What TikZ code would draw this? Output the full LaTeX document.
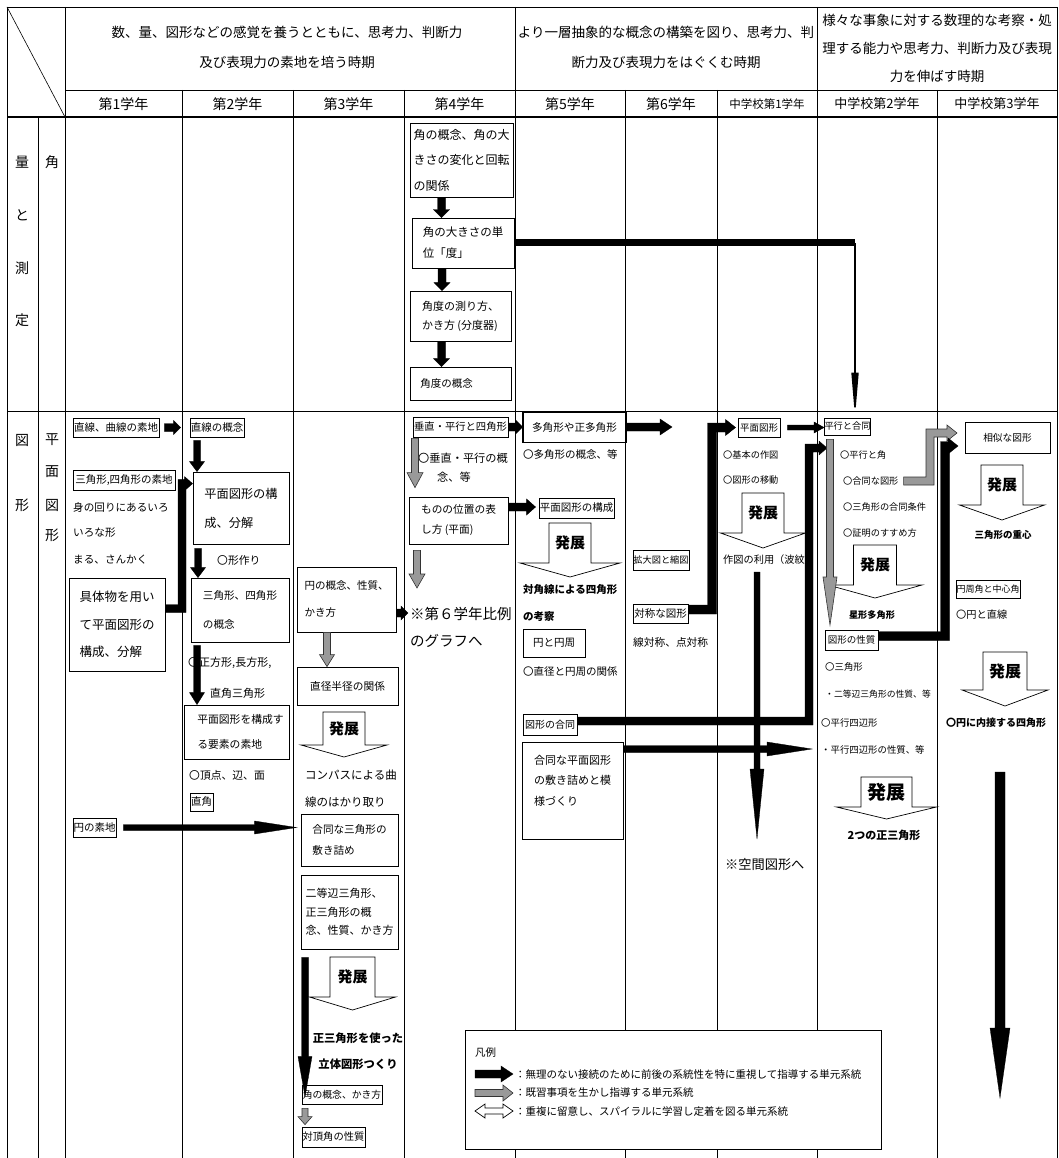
\documentclass[tikz,border=0pt]{standalone}
\usepackage{fontspec}
\setmainfont{Noto Sans CJK JP}
\usetikzlibrary{calc,arrows.meta}
\newcommand\FS[2]{\fontsize{#1}{#2}\selectfont}
% down block arrow: style, from, to, half shaft, half head, head length
\newcommand\DArrow[6]{\path[#1] let \p1=#2, \p2=#3 in (\x1-#4,\y1) -- (\x1-#4,\y2+#6) -- (\x1-#5,\y2+#6) -- (\x1,\y2) -- (\x1+#5,\y2+#6) -- (\x1+#4,\y2+#6) -- (\x1+#4,\y1) -- cycle;}
% right block arrow
\newcommand\RArrow[6]{\path[#1] let \p1=#2, \p2=#3 in (\x1,\y1-#4) -- (\x2-#6,\y1-#4) -- (\x2-#6,\y1-#5) -- (\x2,\y1) -- (\x2-#6,\y1+#5) -- (\x2-#6,\y1+#4) -- (\x1,\y1+#4) -- cycle;}
% L-shaped block arrow: right, up, right
\newcommand\LArrow[7]{\path[#1] let \p1=#2, \p2=#3, \p3=#4 in (\x1,\y1-#5) -- (\x2+#5,\y1-#5) -- (\x2+#5,\y3-#5) -- (\x3-#7,\y3-#5) -- (\x3-#7,\y3-#6) -- (\x3,\y3) -- (\x3-#7,\y3+#6) -- (\x3-#7,\y3+#5) -- (\x2-#5,\y3+#5) -- (\x2-#5,\y1+#5) -- (\x1,\y1+#5) -- cycle;}
% box node
\newcommand\bxn[6]{\node[bx, minimum width={(#4-#2)*1pt}, minimum height={(#5-#3)*1pt}, font=#6] (#1) at ({(#2+#4)/2},{(#3+#5)/2})}
% hollow "hatten" arrow: name, cx, top, rect half width, shoulder y, head half width, tip y, font size
\newcommand\Hatten[8]{%
 \draw[hol] ({#2-#4},#3) -- ({#2+#4},#3) -- ({#2+#4},#5) -- ({#2+#6},#5) -- (#2,#7) -- ({#2-#6},#5) -- ({#2-#4},#5) -- cycle;
 \node[inner sep=0pt, font=\FS{#8}{#8}\bfseries] (#1) at (#2,{(#3+#5)/2}) {発展};}
\begin{document}
\begin{tikzpicture}[x=1pt,y=-1pt,
 grid/.style={line width=0.8pt},
 bx/.style={draw, line width=0.8pt, inner sep=0pt, align=left},
 tx/.style={anchor=west, inner sep=0pt},
 tc/.style={inner sep=0pt},
 blk/.style={fill=black, draw=black, line width=0.3pt},
 gry/.style={fill=black!40, draw=black!80, line width=0.6pt},
 hol/.style={fill=white, draw=black, line width=0.7pt}]
\useasboundingbox (0,0) rectangle (1058,1158);
\fill[white] (0,0) rectangle (1058,1158);
% ---------- grid
\draw[grid] (7,7) -- (1057,7);
\draw[grid] (65,90) -- (1057,90);
\draw[line width=2pt] (7,117) -- (1057,117);
\draw[grid] (7,411) -- (1057,411);
\draw[grid] (7,7) -- (7,1158);
\draw[grid] (65,7) -- (65,1158);
\draw[grid] (38,117) -- (38,1158);
\foreach \cx in {182,293,404,625,717,937} \draw[grid] (\cx,90) -- (\cx,1158);
\foreach \cx in {515,817,1057} \draw[grid] (\cx,7) -- (\cx,1158);
\draw[line width=0.6pt] (7,7) -- (65,117);
% ---------- header
\node[align=center, font=\FS{13.5}{30}] (hp1) at (287,47) {数、量、図形などの感覚を養うとともに、思考力、判断力\\及び表現力の素地を培う時期};
\node[align=center, font=\FS{13.5}{30}] (hp2) at (666,47) {より一層抽象的な概念の構築を図り、思考力、判\\断力及び表現力をはぐくむ時期};
\node[align=center, font=\FS{13.5}{28}] (hp3) at (937,48) {様々な事象に対する数理的な考察・処\\理する能力や思考力、判断力及び表現\\力を伸ばす時期};
\node[font=\FS{14}{14}] (y1) at (123.5,104) {第1学年};
\node[font=\FS{14}{14}] (y2) at (237.5,104) {第2学年};
\node[font=\FS{14}{14}] (y3) at (348.5,104) {第3学年};
\node[font=\FS{14}{14}] (y4) at (459.5,104) {第4学年};
\node[font=\FS{14}{14}] (y5) at (570,104) {第5学年};
\node[font=\FS{14}{14}] (y6) at (671,104) {第6学年};
\node[font=\FS{11.5}{11.5}] (y7) at (767,104) {中学校第1学年};
\node[font=\FS{13}{13}] (y8) at (877,104) {中学校第2学年};
\node[font=\FS{13}{13}] (y9) at (997,104) {中学校第3学年};
% ---------- left labels
\node[tc, font=\FS{14}{14}] (L1) at (22,162) {量};
\node[tc, font=\FS{14}{14}] (L2) at (22,215) {と};
\node[tc, font=\FS{14}{14}] (L3) at (22,268) {測};
\node[tc, font=\FS{14}{14}] (L4) at (22,320) {定};
\node[tc, font=\FS{14}{14}] (L5) at (52,162) {角};
\node[tc, font=\FS{14}{14}] (L6) at (22,440) {図};
\node[tc, font=\FS{14}{14}] (L7) at (22,505) {形};
\node[tc, font=\FS{14}{14}] (L8) at (52,440) {平};
\node[tc, font=\FS{14}{14}] (L9) at (52,472) {面};
\node[tc, font=\FS{14}{14}] (L10) at (52,505) {図};
\node[tc, font=\FS{14}{14}] (L11) at (52,535) {形};
% ---------- angle section (4th grade)
\bxn{A1}{410}{123}{513}{197}{\FS{12}{25.5}} {角の概念、角の大\\きさの変化と回転\\の関係};
\bxn{A2}{412}{218}{514}{268}{\FS{11.5}{21}} {角の大きさの単\\位「度」};
\bxn{A3}{410}{291}{511}{341}{\FS{11}{19}} {角度の測り方、\\かき方 (分度器)};
\bxn{A4}{410}{367}{511}{400}{\FS{10.5}{10.5}} {角度の概念\hspace*{28pt}};
\DArrow{blk}{([xshift=-20pt]A1.south)}{(A2.north)}{4pt}{8pt}{8pt}
\DArrow{blk}{([xshift=-21pt]A2.south)}{(A3.north)}{4pt}{8pt}{8pt}
\DArrow{blk}{([xshift=-19pt]A3.south)}{(A4.north)}{4pt}{8pt}{8pt}
\coordinate (kAx) at (855,0);
% ---------- col 1
\bxn{c1a}{73}{418}{159}{437}{\FS{10.5}{10.5}} {直線、曲線の素地};
\bxn{c1b}{73}{470}{175}{490}{\FS{10.5}{10.5}} {三角形,四角形の素地};
\node[tx, font=\FS{10.6}{10.6}] (t1a) at (73,507) {身の回りにあるいろ};
\node[tx, font=\FS{10.6}{10.6}] (t1b) at (73,533) {いろな形};
\node[tx, font=\FS{10.6}{10.6}] (t1c) at (73,560) {まる、さんかく};
\bxn{c1c}{69}{578}{165}{671}{\FS{12.5}{27.5}} {具体物を用い\\て平面図形の\\構成、分解};
\bxn{c1d}{73}{818}{116}{837}{\FS{10.5}{10.5}} {円の素地};
% ---------- col 2
\bxn{c2a}{190}{418}{244}{437}{\FS{10.5}{10.5}} {直線の概念};
\bxn{c2b}{193}{472}{289}{544}{\FS{12.2}{29}} {平面図形の構\\成、分解};
\node[tx, font=\FS{10.8}{10.8}] (t2a) at (217,560) {〇形作り};
\bxn{c2c}{191}{578}{289}{642}{\FS{10.6}{29}} {三角形、四角形\\の概念};
\node[tx, font=\FS{11}{11}] (t2b) at (188,663) {〇正方形,長方形,};
\node[tx, font=\FS{11}{11}] (t2c) at (210,693) {直角三角形};
\bxn{c2d}{184}{705}{289}{759}{\FS{10.8}{25}} {\hspace*{8pt}平面図形を構成す\\\hspace*{8pt}る要素の素地};
\node[tx, font=\FS{10.8}{10.8}] (t2d) at (189,775) {〇頂点、辺、面};
\bxn{c2e}{190}{793}{213}{811}{\FS{10.5}{10.5}} {直角};
% ---------- col 3
\bxn{c3a}{297}{567}{396}{632}{\FS{10.5}{27}} {円の概念、性質、\\かき方};
\bxn{c3b}{297}{667}{398}{705}{\FS{10.7}{10.7}} {直径半径の関係};
\Hatten{h3a}{344}{712}{21}{745}{43}{757}{15}
\node[tx, font=\FS{11.5}{11.5}] (t3a) at (305,775) {コンパスによる曲};
\node[tx, font=\FS{11.5}{11.5}] (t3b) at (305,802) {線のはかり取り};
\bxn{c3c}{301}{814}{398}{866}{\FS{10.6}{21}} {合同な三角形の\\敷き詰め};
\bxn{c3d}{301}{875}{398}{949}{\FS{11}{18.5}} {二等辺三角形、\\正三角形の概\\念、性質、かき方};
\Hatten{h3b}{352.5}{957}{22.5}{997}{43}{1010}{15}
\node[tc, font=\FS{11.3}{11.3}\bfseries] (t3c) at (358,1038) {正三角形を使った};
\node[tc, font=\FS{11.3}{11.3}\bfseries] (t3d) at (358,1064) {立体図形つくり};
\bxn{c3e}{302}{1085}{382}{1104}{\FS{9.8}{9.8}} {角の概念、かき方};
\bxn{c3f}{302}{1127}{365}{1147}{\FS{10.3}{10.3}} {対頂角の性質};
% ---------- col 4
\bxn{c4a}{413}{417}{508}{437}{\FS{10.3}{10.3}} {垂直・平行と四角形};
\node[tx, font=\FS{11.2}{11.2}] (t4a) at (418,458) {〇垂直・平行の概};
\node[tx, font=\FS{11.2}{11.2}] (t4b) at (437,477) {念、等};
\bxn{c4b}{409}{497}{508}{544}{\FS{10.7}{20}} {ものの位置の表\\し方 (平面)};
\node[tx, font=\FS{14.5}{14.5}] (t6) at (410,614) {※第６学年比例};
\node[tx, font=\FS{14.5}{14.5}] (t6b) at (410,641) {のグラフへ};
\coordinate (k4) at (417,588);
% ---------- col 5
\bxn{c5a}{523}{412}{626}{442}{\FS{10.6}{10.6}} {多角形や正多角形};
\draw[line width=1.4pt] (c5a.north west) rectangle (c5a.south east);
\coordinate (k5) at (672,427);
\node[tx, font=\FS{10.5}{10.5}] (t5a) at (523,455) {〇多角形の概念、等};
\bxn{c5b}{539}{498}{614}{518}{\FS{10.5}{10.5}} {平面図形の構成};
\Hatten{h5a}{570}{523}{21}{563}{50}{577}{15}
\node[tx, font=\FS{10.5}{10.5}\bfseries] (t5b) at (523,590) {対角線による四角形};
\node[tx, font=\FS{10.5}{10.5}\bfseries] (t5c) at (523,617) {の考察};
\bxn{c5c}{523}{629}{585}{657}{\FS{10.5}{10.5}} {円と円周};
\node[tx, font=\FS{10.5}{10.5}] (t5d) at (523,672) {〇直径と円周の関係};
\bxn{c5d}{523}{714}{577}{735}{\FS{10}{10}} {図形の合同};
\bxn{c5e}{522}{742}{623}{839}{\FS{11}{20.5}} {合同な平面図形\\の敷き詰めと模\\様づくり\\ \mbox{}};
\coordinate (kHt) at (812,749);
% ---------- col 6
\bxn{c6a}{633}{550}{689}{570}{\FS{9.2}{9.2}} {拡大図と縮図};
\bxn{c6b}{633}{604}{688}{623}{\FS{10.5}{10.5}} {対称な図形};
\node[tx, font=\FS{10.7}{10.7}] (t6c) at (633,642) {線対称、点対称};
\coordinate (kSx) at (712,0);
% ---------- col 7
\bxn{c7a}{738}{418}{780}{437}{\FS{9.5}{9.5}} {平面図形};
\node[tx, font=\FS{9.2}{9.2}] (t7a) at (723,455) {〇基本の作図};
\node[tx, font=\FS{9.2}{9.2}] (t7b) at (723,480) {〇図形の移動};
\Hatten{h7a}{763}{493}{21}{533}{42.5}{548}{15}
\node[tx, font=\FS{10.2}{10.2}] (t7c) at (723,560) {作図の利用（波紋};
\node[tx, font=\FS{13.2}{13.2}] (t7d) at (725,865) {※空間図形へ};
\coordinate (kVs) at (757,572);
\coordinate (kVe) at (757,839);
% ---------- col 8
\bxn{c8a}{825}{418}{870}{435}{\FS{9.2}{9.2}} {平行と合同};
\node[tx, font=\FS{9.2}{9.2}] (t8a) at (840,455) {〇平行と角};
\node[tx, font=\FS{9.2}{9.2}] (t8b) at (843,481) {〇合同な図形};
\node[tx, font=\FS{9.2}{9.2}] (t8c) at (843,507) {〇三角形の合同条件};
\node[tx, font=\FS{9.2}{9.2}] (t8d) at (843,533) {〇証明のすすめ方};
\Hatten{h8a}{875}{545}{21.5}{585}{47}{598}{15}
\node[tc, font=\FS{9.2}{9.2}\bfseries] (t8e) at (872,615) {星形多角形};
\bxn{c8b}{825}{630}{878}{650}{\FS{9.5}{9.5}} {図形の性質};
\node[tx, font=\FS{9.4}{9.4}] (t8f) at (825,667) {〇三角形};
\node[tx, font=\FS{8.8}{8.8}] (t8g) at (825,694) {・二等辺三角形の性質、等};
\node[tx, font=\FS{9.4}{9.4}] (t8h) at (821,723) {〇平行四辺形};
\node[tx, font=\FS{9.4}{9.4}] (t8i) at (821,750) {・平行四辺形の性質、等};
\Hatten{h8b}{886.5}{777}{25.5}{807}{50}{819}{19}
\node[tc, font=\FS{11}{11}\bfseries] (t8j) at (884,835) {2つの正三角形};
\coordinate (kGr) at (830,625);
\coordinate (kGx) at (809,0);
\coordinate (kGt) at (827,448);
\coordinate (kQx) at (930,0);
\coordinate (kQt) at (957,433);
\coordinate (kPx) at (945,0);
\coordinate (kPt) at (958,446);
% ---------- col 9
\bxn{c9a}{965}{422}{1050}{453}{\FS{9.7}{9.7}} {相似な図形};
\Hatten{h9a}{1002}{465}{21}{505}{42.5}{520}{15}
\node[tc, font=\FS{9.5}{9.5}\bfseries] (t9a) at (1003,535) {三角形の重心};
\bxn{c9b}{956}{580}{1020}{598}{\FS{9}{9}} {円周角と中心角};
\node[tx, font=\FS{10.2}{10.2}] (t9b) at (956,615) {〇円と直線};
\Hatten{h9b}{1005}{652}{22}{690}{43}{706}{16}
\node[tc, font=\FS{10}{10}\bfseries] (t9c) at (996,723) {〇円に内接する四角形};
\coordinate (kBs) at (1000,772);
\coordinate (kBe) at (1000,1098);
% ---------- connectors
\draw[line width=7pt] (A2.east) -- (A2.east -| kAx);
\draw[line width=1.6pt, -{Triangle[length=45pt,width=7pt]}] (A2.east -| kAx) -- (kAx |- c8a.north);
\RArrow{blk}{([xshift=5pt]c1a.east)}{([xshift=-9pt]c2a.west)}{4pt}{7pt}{7pt}
\LArrow{blk}{([yshift=16pt]c1c.east)}{(182,0)}{([yshift=-12pt]c2b.north west)}{4pt}{7pt}{8pt}
\RArrow{blk}{([xshift=7pt]c1d.east)}{([xshift=-4pt]c3c.west)}{3pt}{6.5pt}{42pt}
\DArrow{blk}{([shift={(-20pt,-3pt)}]c2a.south)}{(c2b.north)}{3.5pt}{7.5pt}{10pt}
\DArrow{blk}{([shift={(-43pt,-4pt)}]c2b.south)}{(c2c.north)}{3.5pt}{7.5pt}{10pt}
\DArrow{blk}{([shift={(-43pt,-3pt)}]c2c.south)}{(c2d.north)}{3.5pt}{7.5pt}{12pt}
\RArrow{blk}{([yshift=-13.5pt]c3a.east)}{([xshift=-2pt]t6.west)}{4pt}{7pt}{7pt}
\DArrow{gry}{([xshift=-19.5pt]c3a.south)}{(c3b.north)}{3.5pt}{7.5pt}{12pt}
\DArrow{blk}{([shift={(-44.5pt,-8pt)}]c3d.south)}{([yshift=-12pt]c3e.north)}{3.5pt}{7pt}{40pt}
\DArrow{gry}{([shift={(-37pt,-4pt)}]c3e.south)}{([yshift=2pt]c3f.north)}{3pt}{7pt}{8pt}
\RArrow{blk}{(c4a.east)}{(c5a.west)}{4pt}{7pt}{7pt}
\DArrow{gry}{([shift={(-45.5pt,-1pt)}]c4a.south)}{([yshift=9pt]c4b.north)}{3.5pt}{8pt}{15pt}
\RArrow{blk}{([yshift=13.5pt]c4b.east)}{([xshift=-3pt]c5b.west)}{4pt}{8pt}{9pt}
\DArrow{gry}{([shift={(-41.5pt,-6pt)}]c4b.south)}{(k4)}{3.5pt}{8pt}{14pt}
\RArrow{blk}{(c5a.east)}{(k5)}{4pt}{8pt}{12pt}
\LArrow{blk}{([yshift=4pt]c6b.east)}{(kSx)}{([xshift=-2pt]c7a.west)}{4.5pt}{8pt}{10pt}
\RArrow{blk}{([xshift=7pt]c7a.east)}{(c8a.west)}{2.5pt}{5.5pt}{10pt}
\DArrow{blk}{(kVs)}{(kVe)}{3pt}{7pt}{70pt}
\RArrow{blk}{([yshift=41.5pt]c5e.east)}{(kHt)}{3.5pt}{7pt}{45pt}
\LArrow{blk}{([yshift=3.5pt]c5d.east)}{(kGx)}{(kGt)}{4pt}{7pt}{8pt}
\DArrow{gry}{([shift={(-17.5pt,-4pt)}]c8a.south)}{(kGr)}{3.5pt}{7pt}{48pt}
\LArrow{gry}{([xshift=5pt]t8b.east)}{(kQx)}{(kQt)}{4pt}{8pt}{10pt}
\LArrow{blk}{([yshift=4pt]c8b.east)}{(kPx)}{(kPt)}{4.5pt}{8pt}{10pt}
\DArrow{blk}{(kBs)}{(kBe)}{5pt}{10pt}{70pt}
% ---------- legend
\node[draw, line width=0.8pt, fill=white, minimum width=416pt, minimum height=119pt, inner sep=0pt] (leg) at (673,1089.5) {};
\node[tx, font=\FS{10.5}{10.5}] (lg0) at (475,1053) {凡例};
\node[tx, font=\FS{10.5}{10.5}] (lg1) at (515,1074) {：無理のない接続のために前後の系統性を特に重視して指導する単元系統};
\node[tx, font=\FS{10.5}{10.5}] (lg2) at (515,1093) {：既習事項を生かし指導する単元系統};
\node[tx, font=\FS{10.5}{10.5}] (lg3) at (515,1111) {：重複に留意し、スパイラルに学習し定着を図る単元系統};
\coordinate (kL1) at (475,1074);
\coordinate (kL2) at (475,1093);
\coordinate (kL3) at (475,1111);
\RArrow{blk}{(kL1)}{([xshift=-2pt]lg1.west)}{4pt}{8pt}{12pt}
\RArrow{gry}{(kL2)}{([xshift=-2pt]lg2.west)}{3.5pt}{8pt}{10pt}
\path[hol] let \p1=(kL3), \p2=([xshift=-2pt]lg3.west) in (\x1,\y1) -- (\x1+10pt,\y1+7pt) -- (\x1+10pt,\y1+3pt) -- (\x2-10pt,\y1+3pt) -- (\x2-10pt,\y1+7pt) -- (\x2,\y1) -- (\x2-10pt,\y1-7pt) -- (\x2-10pt,\y1-3pt) -- (\x1+10pt,\y1-3pt) -- (\x1+10pt,\y1-7pt) -- cycle;
\end{tikzpicture}
\end{document}
